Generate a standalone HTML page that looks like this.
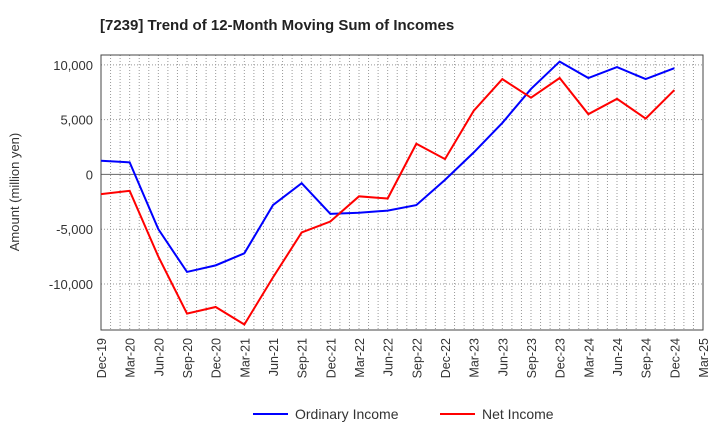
<!DOCTYPE html>
<html><head><meta charset="utf-8"><style>
body{margin:0;background:#fff;font-family:"Liberation Sans",Arial,sans-serif;}
</style></head><body>
<svg id="chart" width="720" height="440" xmlns="http://www.w3.org/2000/svg">
<text x="100" y="30" font-size="15" font-weight="bold" fill="#222">[7239]  Trend of 12-Month Moving Sum of Incomes</text>
<g id="grid"></g><g id="axes"></g><g id="series"></g>
<text transform="translate(19,192) rotate(-90)" text-anchor="middle" font-size="13" fill="#333">Amount (million yen)</text>
<g>
<line x1="253" y1="414" x2="288" y2="414" stroke="#0000ff" stroke-width="2"/>
<text x="295" y="419" font-size="14" fill="#333">Ordinary Income</text>
<line x1="440" y1="414" x2="475" y2="414" stroke="#ff0000" stroke-width="2"/>
<text x="482" y="419" font-size="14" fill="#333">Net Income</text>
</g>
</svg>
<script>
const categories=["Dec-19","Mar-20","Jun-20","Sep-20","Dec-20","Mar-21","Jun-21","Sep-21","Dec-21","Mar-22","Jun-22","Sep-22","Dec-22","Mar-23","Jun-23","Sep-23","Dec-23","Mar-24","Jun-24","Sep-24","Dec-24","Mar-25"];
const ordinaryIncome=[1250,1100,-5000,-8900,-8300,-7200,-2800,-800,-3600,-3500,-3300,-2800,-500,2000,4700,7800,10300,8800,9800,8700,9700];
const netIncome=[-1800,-1500,-7500,-12700,-12100,-13700,-9400,-5300,-4300,-2000,-2200,2800,1400,5800,8700,7000,8800,5500,6900,5100,7700];
const yTicks=[10000,5000,0,-5000,-10000];
const yTickLabels=["10,000","5,000","0","-5,000","-10,000"];
const NS="http://www.w3.org/2000/svg";
const L=101,R=703,T=55,B=330,yMin=-14200,yMax=10900;
const x=i=>L+(R-L)*i/(categories.length-1);
const y=v=>B-(v-yMin)/(yMax-yMin)*(B-T);
function mk(tag,attrs,parent){const e=document.createElementNS(NS,tag);for(const k in attrs)e.setAttribute(k,attrs[k]);parent.appendChild(e);return e;}
const grid=document.getElementById('grid'),axes=document.getElementById('axes'),series=document.getElementById('series');
for(let m=1;m<(categories.length-1)*3;m++){const xx=L+(R-L)*m/((categories.length-1)*3);
const g=mk('line',{x1:xx,x2:xx,y1:T,y2:B,stroke:'#999','stroke-dasharray':'1,2','stroke-width':1},grid);

}
yTicks.forEach((v,i)=>{
const g=mk('line',{x1:L,x2:R,y1:y(v),y2:y(v),stroke:v===0?'#666':'#999','stroke-dasharray':v===0?'':'1,2','stroke-width':1},grid);


const t=mk('text',{x:L-8,y:y(v)+5,'text-anchor':'end','font-size':13,fill:'#333'},axes);t.textContent=yTickLabels[i];

});
const fr=mk('rect',{x:L,y:T,width:R-L,height:B-T,fill:'none',stroke:'#444','stroke-width':1},axes);


categories.forEach((c,i)=>{const t=mk('text',{transform:`translate(${x(i)+5},${B+8}) rotate(-90)`,'text-anchor':'end','font-size':12.5,fill:'#333'},axes);t.textContent=c;

});
function line(vals,color,name){const p=mk('polyline',{points:vals.map((v,i)=>x(i)+','+y(v)).join(' '),fill:'none',stroke:color,'stroke-width':2},series);

}
line(ordinaryIncome,'#0000ff','ordinary-income-line');
line(netIncome,'#ff0000','net-income-line');
</script>
</body></html>
